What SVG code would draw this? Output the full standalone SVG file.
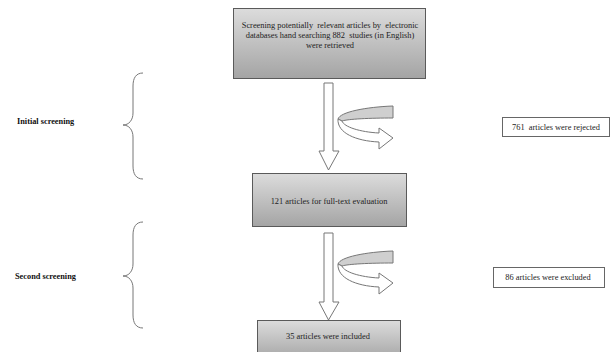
<svg xmlns="http://www.w3.org/2000/svg" width="613" height="352" viewBox="0 0 613 352">
<defs>
<linearGradient id="g" x1="0" y1="0" x2="0" y2="1">
<stop offset="0" stop-color="#dcdcdc"/>
<stop offset="1" stop-color="#a4a4a4"/>
</linearGradient>
<style>
.box{fill:url(#g);stroke:#5a5a5a;stroke-width:1}
.wbox{fill:#fff;stroke:#666;stroke-width:1}
.t{font-family:"Liberation Serif",serif;font-size:8.4px;fill:#222;text-anchor:middle;white-space:pre}
.lbl{font-family:"Liberation Serif",serif;font-size:8.3px;font-weight:bold;fill:#111}
.arr{fill:#fff;stroke:#777;stroke-width:1}
.back{fill:#cfcfcf;stroke:#777;stroke-width:1}
.brace{fill:none;stroke:#777;stroke-width:1}
</style>
</defs>
<rect width="613" height="352" fill="#fff"/>
<g id="connectors">
<path class="arr" d="M324,83 H333 V151 H339 L328.5,170 L319,151 H324 Z"/>
<path class="arr" d="M324,233 H333 V302 H339 L328.5,320 L319,302 H324 Z"/>
<g id="curve1">
<path class="back" d="M393,106 C366,107 340,112 338,119 L342,121 C348,119 370,118 393,118 Z"/>
<path class="arr" d="M338,119 C337,133 356,141 379,142 L379,149 L393,138 L379,128 L379,133 C360,132 344,127 342,121 Z"/>
</g>
<g id="curve2" transform="translate(0,145)">
<path class="back" d="M393,106 C366,107 340,112 338,119 L342,121 C348,119 370,118 393,118 Z"/>
<path class="arr" d="M338,119 C337,133 356,141 379,142 L379,149 L393,138 L379,128 L379,133 C360,132 344,127 342,121 Z"/>
</g>
<path class="brace" d="M143,73 C136,73 133,78 133,86 V113 C133,120 129,125 123,125 C129,125 133,130 133,137 V166 C133,174 136,179 143,179"/>
<path class="brace" d="M143,222 C136,222 133,227 133,235 V264 C133,271 129,276 123,276 C129,276 133,281 133,288 V315 C133,323 136,328 143,328"/>
</g>
<g id="n1">
<rect class="box" x="233.5" y="8.5" width="192" height="70"/>
<text class="t" x="330" y="28">Screening potentially  relevant articles by  electronic</text>
<text class="t" x="330" y="38">databases hand searching 882  studies (in English)</text>
<text class="t" x="330" y="48">were retrieved</text>
</g>
<g id="n2">
<rect class="box" x="252.5" y="173.5" width="154" height="53"/>
<text class="t" x="329" y="204">121 articles for full-text evaluation</text>
</g>
<g id="n3">
<rect class="box" x="257.5" y="320.5" width="143" height="40"/>
<text class="t" x="328" y="339">35 articles were included</text>
</g>
<g id="n4">
<rect class="wbox" x="502.5" y="117.5" width="107" height="19"/>
<text class="t" x="556" y="130">761  articles were rejected</text>
</g>
<g id="n5">
<rect class="wbox" x="493.5" y="267.5" width="111" height="20"/>
<text class="t" x="548" y="280">86 articles were excluded</text>
</g>
<g id="l1">
<text class="lbl" x="17" y="124">Initial screening</text>
</g>
<g id="l2">
<text class="lbl" x="15" y="279">Second screening</text>
</g>
</svg>
